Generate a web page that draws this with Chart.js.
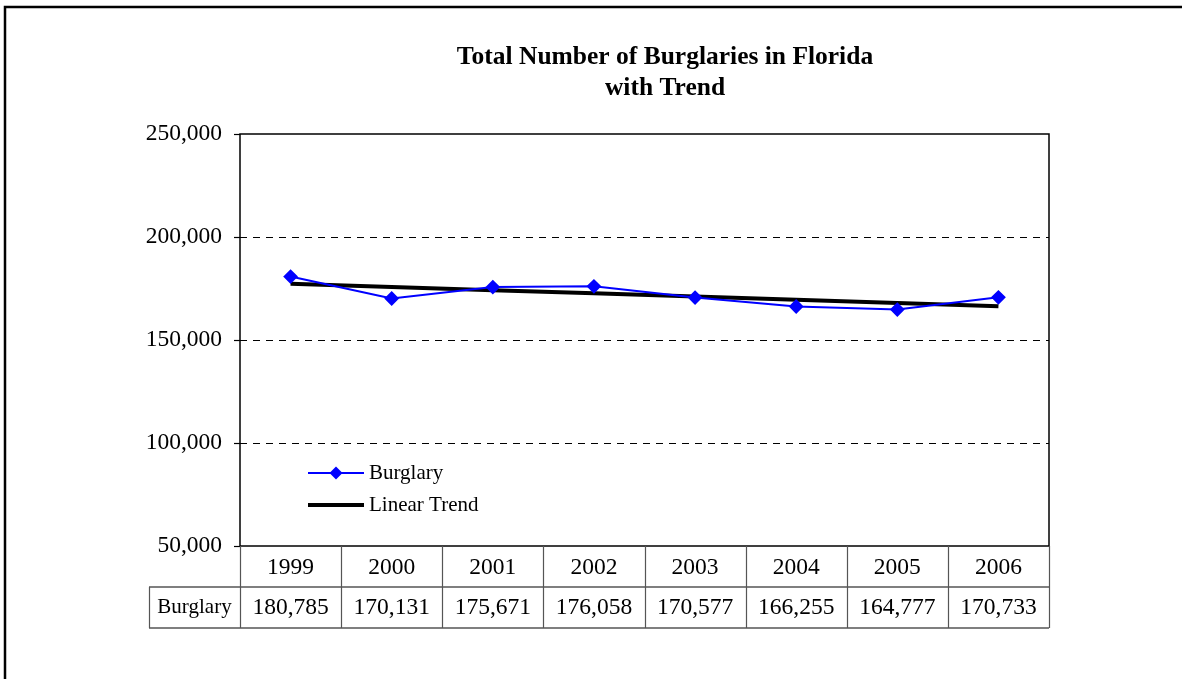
<!DOCTYPE html>
<html>
<head>
<meta charset="utf-8">
<script src="https://cdn.jsdelivr.net/npm/chart.js@4/dist/chart.umd.min.js"></script>
<style>
  body { margin: 0; background: #fff; }
  canvas { display: block; }
</style>
</head>
<body>
<canvas id="burgChart" width="1182" height="679"></canvas>
<script>
// data
const years = ["1999", "2000", "2001", "2002", "2003", "2004", "2005", "2006"];
const burglary = [180785, 170131, 175671, 176058, 170577, 166255, 164777, 170733];
// least-squares trend values for the years above
const linearTrend = [177326, 175768, 174210, 172652, 171094, 169537, 167979, 166421];
const titleLines = ["Total Number of Burglaries in Florida", "with Trend"];

const serif = '"Liberation Serif", "Times New Roman", serif';
const fmt = (v) => v.toLocaleString("en-US");

// outer frame, title, plot border, legend and the data table under the axis
const decorations = {
  id: "decorations",
  afterDraw(chart) {
    const ctx = chart.ctx;
    const area = chart.chartArea;
    const xs = chart.scales.x;
    ctx.save();

    // page frame
    ctx.strokeStyle = "#000";
    ctx.lineWidth = 2.5;
    ctx.beginPath();
    ctx.moveTo(5, 690);
    ctx.lineTo(5, 7);
    ctx.lineTo(1190, 7);
    ctx.stroke();

    // title
    ctx.fillStyle = "#000";
    ctx.font = "bold 25.5px " + serif;
    ctx.textAlign = "center";
    ctx.textBaseline = "middle";
    ctx.fillText(titleLines[0], 665, 57);
    ctx.fillText(titleLines[1], 665, 88);

    // plot border
    ctx.lineWidth = 1.5;
    ctx.strokeRect(area.left, area.top, area.right - area.left, area.bottom - area.top);

    // legend
    const legendX = 308, legendY = [473, 505];
    ctx.font = "21px " + serif;
    ctx.textAlign = "left";
    chart.data.datasets.forEach((ds, i) => {
      const y = legendY[i];
      ctx.strokeStyle = ds.borderColor;
      ctx.lineWidth = ds.borderWidth;
      ctx.beginPath();
      ctx.moveTo(legendX, y);
      ctx.lineTo(legendX + 56, y);
      ctx.stroke();
      if (ds.pointRadius > 0) {
        ctx.fillStyle = ds.pointBackgroundColor;
        const r = ds.pointRadius + 0.5;
        const cx = legendX + 28;
        ctx.beginPath();
        ctx.moveTo(cx, y - r);
        ctx.lineTo(cx + r, y);
        ctx.lineTo(cx, y + r);
        ctx.lineTo(cx - r, y);
        ctx.closePath();
        ctx.fill();
      }
      ctx.fillStyle = "#000";
      ctx.fillText(ds.label, legendX + 61, y);
    });

    // data table
    const rowTop = area.bottom;
    const rowMid = rowTop + 41;
    const rowBot = rowMid + 41;
    const labelLeft = 149;
    const colW = (area.right - area.left) / years.length;

    ctx.strokeStyle = "#000";
    ctx.lineWidth = 1.2;
    ctx.beginPath();
    ctx.moveTo(labelLeft, rowMid);
    ctx.lineTo(area.right, rowMid);
    ctx.moveTo(labelLeft, rowBot);
    ctx.lineTo(area.right, rowBot);
    ctx.stroke();

    ctx.strokeStyle = "#555";
    ctx.beginPath();
    for (let i = 0; i <= years.length; i++) {
      const x = Math.round(area.left + i * colW) + 0.5;
      ctx.moveTo(x, rowTop);
      ctx.lineTo(x, rowBot);
    }
    ctx.moveTo(labelLeft + 0.5, rowMid);
    ctx.lineTo(labelLeft + 0.5, rowBot);
    ctx.stroke();

    ctx.fillStyle = "#000";
    ctx.textAlign = "center";
    ctx.font = "21px " + serif;
    ctx.fillText(chart.data.datasets[0].label, (labelLeft + area.left) / 2, (rowMid + rowBot) / 2);
    ctx.font = "23.5px " + serif;
    burglary.forEach((v, i) => {
      ctx.fillText(fmt(v), xs.getPixelForValue(i), (rowMid + rowBot) / 2);
    });

    ctx.restore();
  }
};

const ctx = document.getElementById("burgChart").getContext("2d");
new Chart(ctx, {
  type: "line",
  data: {
    labels: years,
    datasets: [
      {
        label: "Burglary",
        data: burglary,
        borderColor: "#0000ff",
        backgroundColor: "#0000ff",
        pointBackgroundColor: "#0000ff",
        pointBorderColor: "#0000ff",
        borderWidth: 2,
        pointStyle: "rectRot",
        pointRadius: 6,
        tension: 0,
      },
      {
        label: "Linear Trend",
        data: linearTrend,
        borderColor: "#000",
        backgroundColor: "#000",
        borderWidth: 4,
        pointRadius: 0,
        tension: 0,
      },
    ],
  },
  options: {
    responsive: false,
    animation: false,
    events: [],
    layout: { padding: { top: 134, right: 133, left: 0, bottom: 0 } },
    plugins: {
      legend: { display: false },
      title: { display: false },
      tooltip: { enabled: false },
    },
    scales: {
      x: {
        offset: true,
        grid: { display: false },
        border: { display: false },
        ticks: { color: "#000", font: { family: serif, size: 23.5 }, padding: 0, maxRotation: 0 },
        afterFit: (scale) => { scale.height = 133; },
      },
      y: {
        min: 50000,
        max: 250000,
        border: { display: false, dash: [7, 6] },
        grid: {
          color: (c) => (c.tick && (c.tick.value === 50000 || c.tick.value === 250000) ? "rgba(0,0,0,0)" : "#000"),
          tickColor: "#000",
          tickLength: 6,
          lineWidth: 1,
          tickWidth: 1.2,
          tickBorderDash: [],
        },
        ticks: {
          stepSize: 50000,
          color: "#000",
          padding: 12,
          font: { family: serif, size: 23.5 },
          callback: (v) => fmt(v),
        },
        afterFit: (scale) => { scale.width = 240; },
      },
    },
  },
  plugins: [decorations],
});
</script>
</body>
</html>
